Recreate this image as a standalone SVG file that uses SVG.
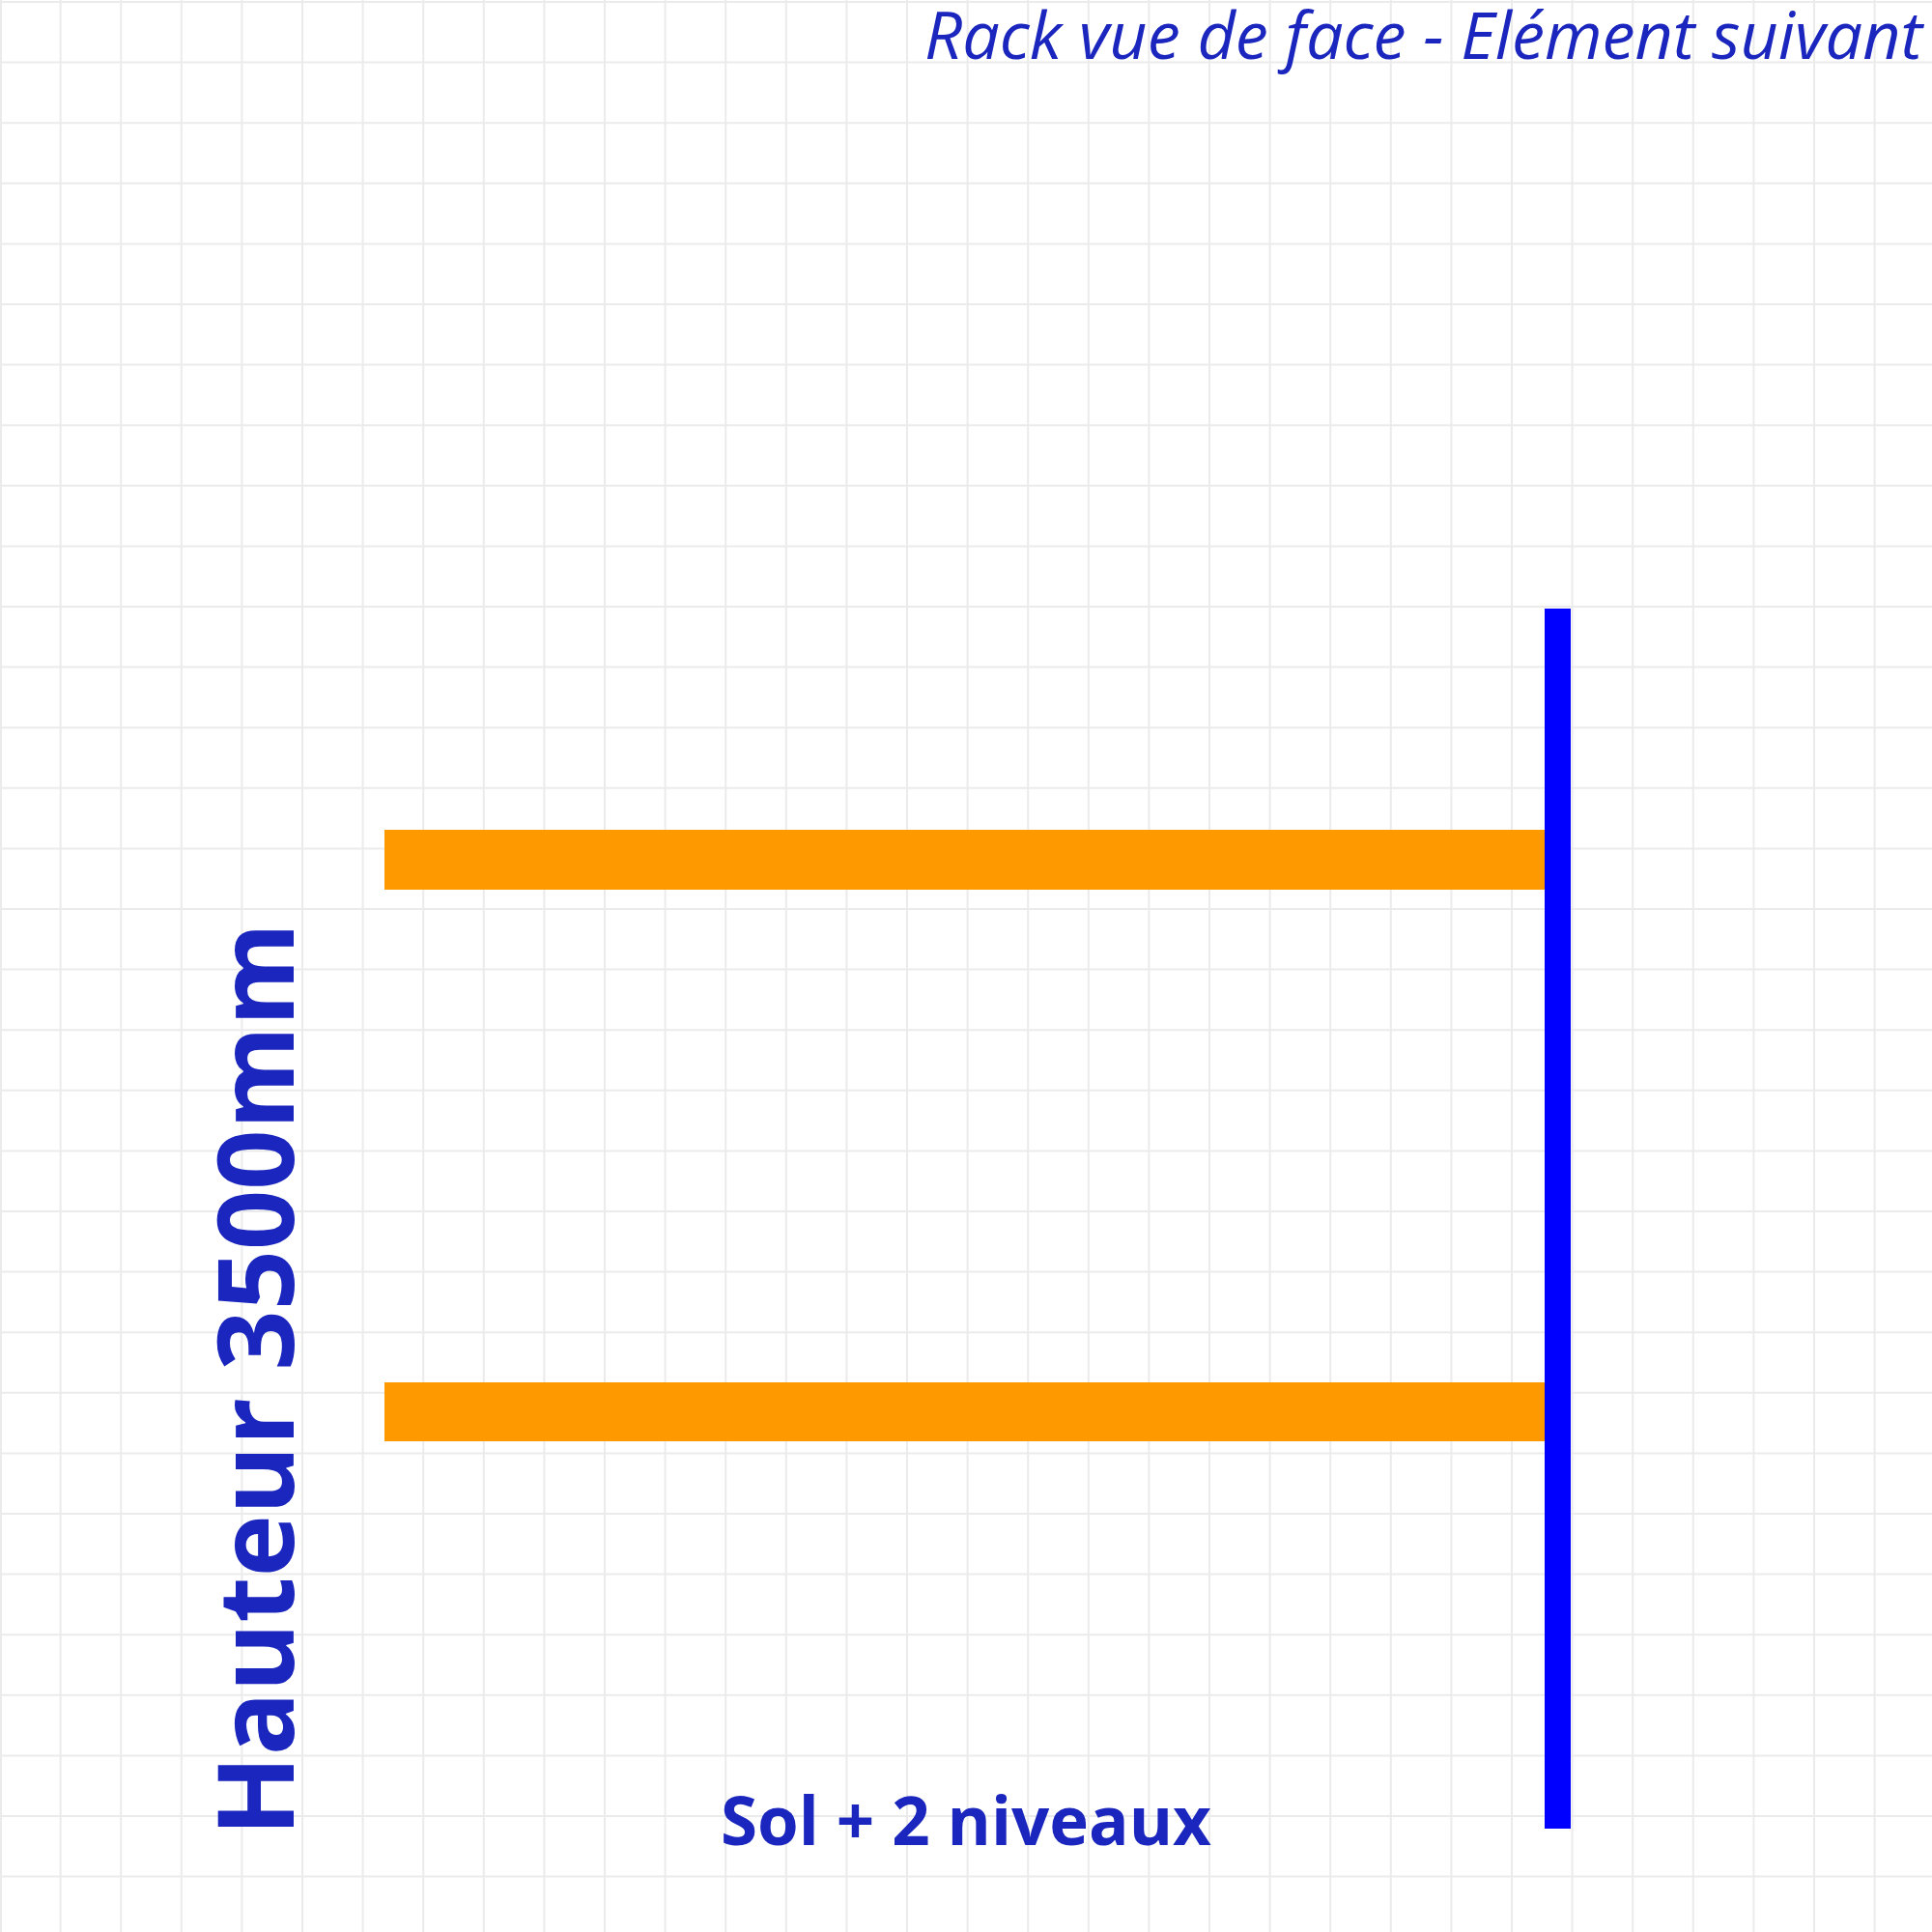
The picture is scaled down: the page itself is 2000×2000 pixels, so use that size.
<svg xmlns="http://www.w3.org/2000/svg" width="2000" height="2000" viewBox="0 0 2000 2000">
<style>
.grid{stroke:#ebebeb;stroke-width:2;fill:none}
.txt{fill:#1a26bd;font-family:"Open Sans","Noto Sans","Liberation Sans",sans-serif}
.beam{fill:#ff9900}
.post{fill:#0000ff}
</style>
<rect x="0" y="0" width="2000" height="2000" fill="#ffffff"/>
<g id="grid">
<path class="grid" d="M1,0V2000 M62.6,0V2000 M125.2,0V2000 M187.8,0V2000 M250.4,0V2000 M313,0V2000 M375.6,0V2000 M438.2,0V2000 M500.8,0V2000 M563.4,0V2000 M626,0V2000 M688.6,0V2000 M751.2,0V2000 M813.8,0V2000 M876.4,0V2000 M939,0V2000 M1001.6,0V2000 M1064.2,0V2000 M1126.8,0V2000 M1189.4,0V2000 M1252,0V2000 M1314.6,0V2000 M1377.2,0V2000 M1439.8,0V2000 M1502.4,0V2000 M1565,0V2000 M1627.6,0V2000 M1690.2,0V2000 M1752.8,0V2000 M1815.4,0V2000 M1878,0V2000 M1940.6,0V2000"/>
<path class="grid" d="M0,2H2000 M0,64.6H2000 M0,127.2H2000 M0,189.8H2000 M0,252.4H2000 M0,315H2000 M0,377.6H2000 M0,440.2H2000 M0,502.8H2000 M0,565.4H2000 M0,628H2000 M0,690.6H2000 M0,753.2H2000 M0,815.8H2000 M0,878.4H2000 M0,941H2000 M0,1003.6H2000 M0,1066.2H2000 M0,1128.8H2000 M0,1191.4H2000 M0,1254H2000 M0,1316.6H2000 M0,1379.2H2000 M0,1441.8H2000 M0,1504.4H2000 M0,1567H2000 M0,1629.6H2000 M0,1692.2H2000 M0,1754.8H2000 M0,1817.4H2000 M0,1880H2000 M0,1942.6H2000"/>
</g>
<g id="beam-upper"><rect class="beam" x="398" y="859" width="1202" height="62"/></g>
<g id="beam-lower"><rect class="beam" x="398" y="1431" width="1202" height="61"/></g>
<g id="post"><rect class="post" x="1599" y="630" width="27" height="1263"/></g>
<g id="title"><text class="txt" x="1990" y="61" font-size="68.3" font-style="italic" text-anchor="end">Rack vue de face - Elément suivant</text></g>
<g id="height-label"><text class="txt" transform="translate(304,1428) rotate(-90)" x="0" y="0" font-size="109" font-weight="bold" text-anchor="middle">Hauteur 3500mm</text></g>
<g id="levels-label"><text class="txt" x="1000" y="1910" font-size="69" font-weight="bold" text-anchor="middle">Sol + 2 niveaux</text></g>
<g id="connectors"></g>
</svg>
